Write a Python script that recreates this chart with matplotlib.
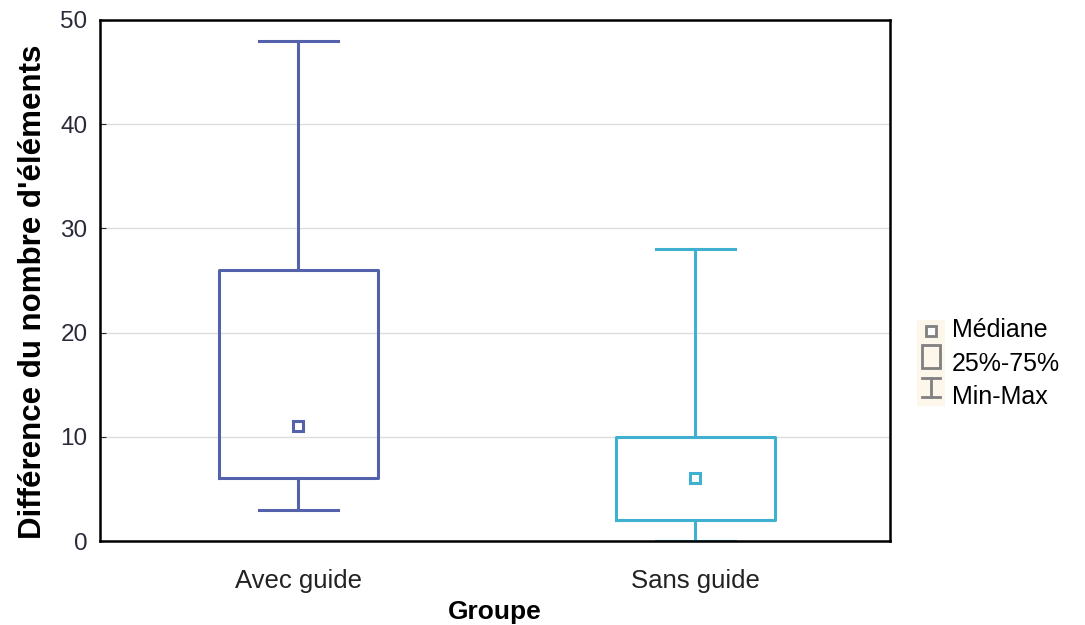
import numpy as np
import matplotlib.pyplot as plt

plt.rcParams['font.family'] = ['Liberation Sans', 'DejaVu Sans']

# data
groups = ['Avec guide', 'Sans guide']
mins = [3, 0]
q1s = [6, 2]
medians = [11, 6]
q3s = [26, 10]
maxs = [48, 28]
colors = ['#5462AC', '#3FB0D0']

fig = plt.figure(figsize=(10.85, 6.25), dpi=100)
ax = fig.add_axes([100 / 1085, 1 - 541 / 625, 790 / 1085, 521 / 625])

stats = []
for g, lo, a, m, b, hi in zip(groups, mins, q1s, medians, q3s, maxs):
    stats.append({'label': g, 'whislo': lo, 'q1': a, 'med': m, 'q3': b, 'whishi': hi})

pos = np.arange(1, len(groups) + 1)
for i, (s, c) in enumerate(zip(stats, colors)):
    ax.bxp([s], positions=[pos[i]], widths=0.4, showfliers=False,
           boxprops=dict(color=c, linewidth=2.2),
           whiskerprops=dict(color=c, linewidth=2.2),
           capprops=dict(color=c, linewidth=2.2),
           medianprops=dict(linewidth=0), manage_ticks=False)
    ax.plot(pos[i], s['med'], marker='s', markersize=7, mfc='white', mec=c, mew=2.2, zorder=5)

ax.set_xlim(0.5, 2.49)
ax.set_ylim(0, 50)
ax.set_xticks(pos)
ax.set_xticklabels(groups)
ax.set_yticks([0, 10, 20, 30, 40, 50])
ax.tick_params(axis='x', length=0, labelsize=18.5, colors='#222222', pad=20)
ax.tick_params(axis='y', direction='in', length=4, labelsize=17.5, colors='#2a2a3a', pad=9)
ax.yaxis.grid(True, color='#dddddd', linewidth=1)
ax.set_axisbelow(True)
for sp in ax.spines.values():
    sp.set_linewidth(1.8)
    sp.set_color('black')
ax.set_xlabel('Groupe', fontsize=19, fontweight='bold', labelpad=5)
ax.set_ylabel("Différence du nombre d'éléments", fontsize=22.5, fontweight='bold', labelpad=9)
ax.yaxis.label.set_y(0.478)

# legend
lax = fig.add_axes([917 / 1085, 1 - 406 / 625, 28 / 1085, 86 / 625])
lax.set_facecolor('#fdf6ea')
lax.set_xlim(0, 1)
lax.set_ylim(0, 1)
lax.set_xticks([])
lax.set_yticks([])
for sp in lax.spines.values():
    sp.set_visible(False)
gc = '#808080'
lax.plot(0.5, 0.87, marker='s', markersize=7, mfc='white', mec=gc, mew=2)
lax.add_patch(plt.Rectangle((0.18, 0.44), 0.64, 0.27, fill=False, ec=gc, lw=2))
lax.plot([0.5, 0.5], [0.1, 0.33], color=gc, lw=2)
lax.plot([0.18, 0.82], [0.33, 0.33], color=gc, lw=2)
lax.plot([0.18, 0.82], [0.1, 0.1], color=gc, lw=2)
fig.text(952 / 1085, 1 - 330 / 625, 'Médiane', fontsize=18, va='center')
fig.text(952 / 1085, 1 - 364 / 625, '25%-75%', fontsize=18, va='center')
fig.text(952 / 1085, 1 - 397 / 625, 'Min-Max', fontsize=18, va='center')

fig.savefig('out.png', dpi=100)
